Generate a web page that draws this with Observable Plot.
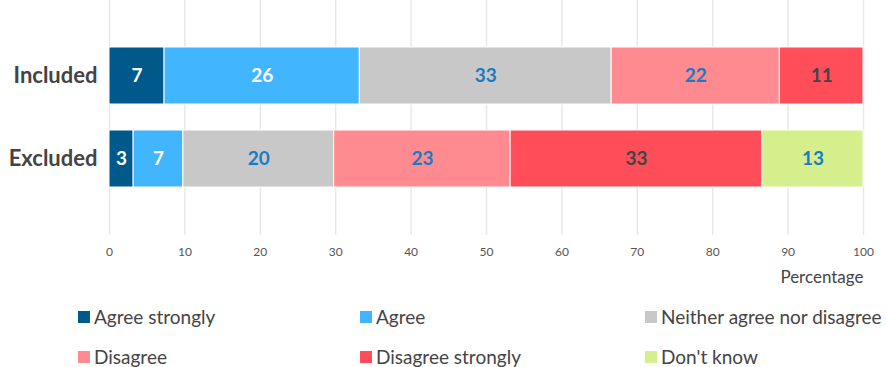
<!DOCTYPE html>
<html>
<head>
<meta charset="utf-8">
<script src="https://cdn.jsdelivr.net/npm/d3@7"></script>
<script src="https://cdn.jsdelivr.net/npm/@observablehq/plot@0.6"></script>
<style>
  html, body { margin: 0; padding: 0; background: #fff; }
  body { width: 886px; height: 367px; overflow: hidden; font-family: Lato, "Open Sans", sans-serif; }
  #legend { position: relative; height: 72px; }
  .item { position: absolute; display: flex; align-items: center; font-size: 19px; color: #444; white-space: nowrap; }
  .sw { width: 12px; height: 12px; margin-right: 4px; }
</style>
</head>
<body>
<div id="chart"></div>
<div id="legend"></div>
<script>
const groups = ["Included", "Excluded"];
const categories = ["Agree strongly", "Agree", "Neither agree nor disagree", "Disagree", "Disagree strongly", "Don't know"];
const colors = ["#00598b", "#41b6ff", "#c8c8c8", "#ff8a90", "#ff4d5a", "#d4ef8c"];
const includedValues = [7.3, 25.9, 33.4, 22.3, 11.1, 0];
const excludedValues = [3.2, 6.6, 20.0, 23.4, 33.4, 13.4];
const xTicks = [0, 10, 20, 30, 40, 50, 60, 70, 80, 90, 100];
const labelColor = {
  "Agree strongly": "white",
  "Agree": "white",
  "Neither agree nor disagree": "#1a7bc4",
  "Disagree": "#1a7bc4",
  "Disagree strongly": "#444444",
  "Don't know": "#1a7bc4"
};

const data = [];
categories.forEach((c, i) => {
  data.push({group: "Included", category: c, value: includedValues[i]});
  data.push({group: "Excluded", category: c, value: excludedValues[i]});
});
const rows = data.filter(d => d.value > 0);

function textMark(col) {
  return Plot.text(rows, Plot.stackX({
    x: "value", y: "group", z: "category", order: categories,
    text: d => labelColor[d.category] === col ? String(Math.round(d.value)) : "",
    fill: col, fontSize: 19, fontWeight: "bold"
  }));
}

const chart = Plot.plot({
  width: 886,
  height: 295,
  marginLeft: 109,
  marginRight: 23,
  marginTop: 0,
  marginBottom: 60,
  style: {fontFamily: "Lato, 'Open Sans', sans-serif", background: "white"},
  x: {domain: [0, 100]},
  y: {domain: groups, paddingInner: 0.31, paddingOuter: 0.57},
  color: {domain: categories, range: colors},
  marks: [
    Plot.gridX(xTicks, {stroke: "#e8e8e8", strokeOpacity: 1, strokeWidth: 1.5}),
    Plot.barX(rows, Plot.stackX({
      x: "value", y: "group", fill: "category", order: categories,
      stroke: "white", strokeWidth: 1, insetLeft: 0, insetRight: 0
    })),
    textMark("white"),
    textMark("#1a7bc4"),
    textMark("#444444"),
    Plot.axisX({ticks: xTicks, tickSize: 0, tickPadding: 12, fontSize: 12, color: "#555", label: null}),
    Plot.axisY({tickSize: 0, tickPadding: 12, fontSize: 22, fontWeight: "bold", color: "#444", label: null}),
    Plot.text(["Percentage"], {frameAnchor: "bottom-right", dy: 47, textAnchor: "end", fontSize: 17, fill: "#444"})
  ]
});
document.getElementById("chart").appendChild(chart);

const legend = document.getElementById("legend");
const colX = [78, 360, 645];
categories.forEach((c, i) => {
  const item = document.createElement("div");
  item.className = "item";
  item.style.left = colX[i % 3] + "px";
  item.style.top = (i < 3 ? 10 : 50) + "px";
  const sw = document.createElement("span");
  sw.className = "sw";
  sw.style.background = colors[i];
  const t = document.createElement("span");
  t.textContent = c;
  item.appendChild(sw);
  item.appendChild(t);
  legend.appendChild(item);
});
</script>
</body>
</html>
